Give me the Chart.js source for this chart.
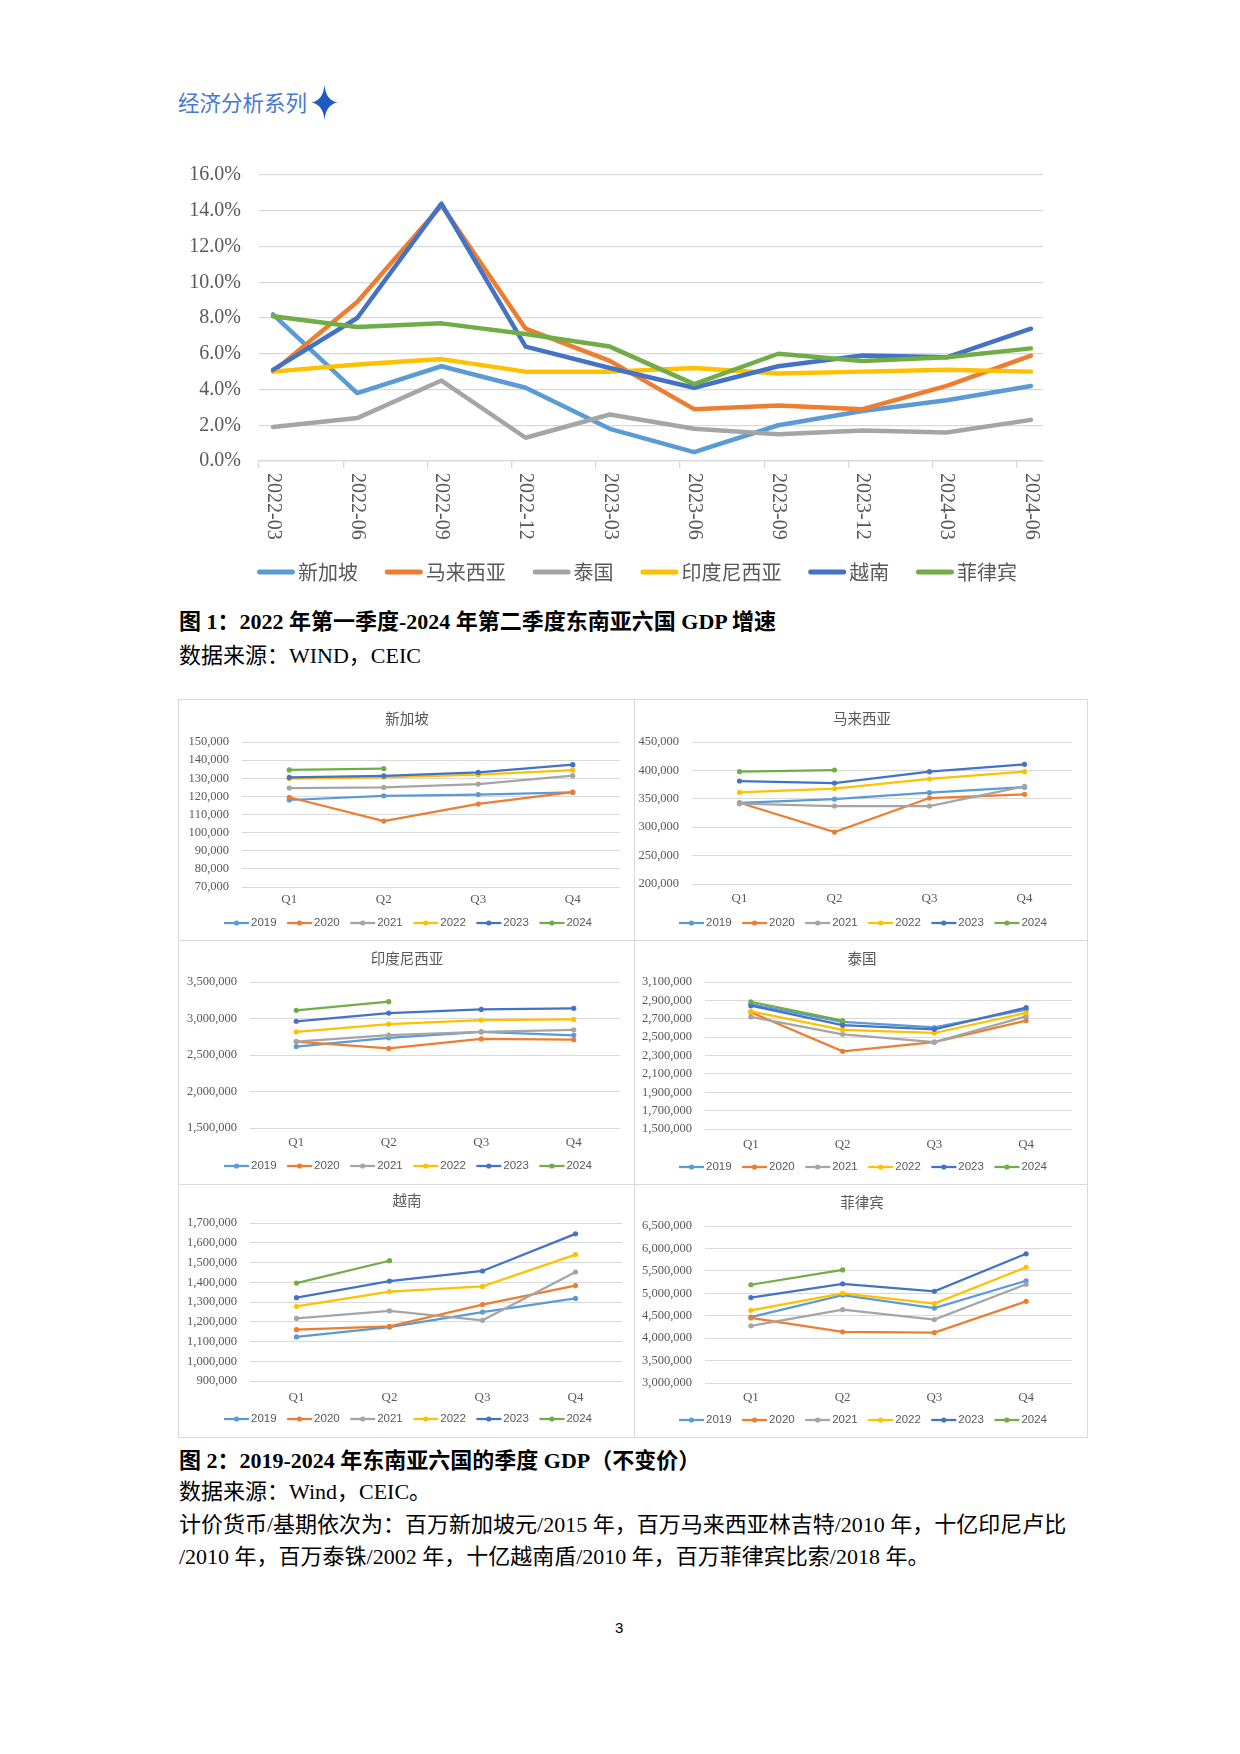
<!DOCTYPE html>
<html>
<head>
<meta charset="utf-8">
<script src="https://cdn.jsdelivr.net/npm/chart.js@4.4.1/dist/chart.umd.min.js"></script>
<style>
  html, body { margin: 0; padding: 0; background: #fff; }
  body { width: 1240px; height: 1754px; position: relative; overflow: hidden; }
  .abs { position: absolute; white-space: nowrap; }
  #hdr { left: 178px; top: 88px; font: 21.5px/28px "Noto Sans CJK SC", sans-serif; color: #4678d2; }
  .cap { left: 179px; font: bold 22px/30px "Liberation Serif", "Noto Sans CJK SC", serif; color: #000; }
  .txt { left: 179px; font: 22px/30px "Liberation Serif", "Noto Sans CJK SC", serif; color: #000; }
  #gridBox { position: absolute; left: 178px; top: 699px; width: 910px; height: 739px; border: 1px solid #d9d9d9; box-sizing: border-box; }
  .vline { position: absolute; left: 634px; top: 699px; width: 1px; height: 739px; background: #d9d9d9; }
  .hline { position: absolute; left: 178px; width: 910px; height: 1px; background: #d9d9d9; }
  canvas { position: absolute; }
</style>
</head>
<body>
<div id="hdr" class="abs">经济分析系列</div>
<svg class="abs" style="left:310px;top:85px" width="29" height="35" viewBox="0 0 29 35">
  <path d="M14.5 0 Q16 16 28 17.5 Q16 19 14.5 35 Q13 19 1 17.5 Q13 16 14.5 0 Z" fill="#1f5bc4"/>
</svg>

<canvas id="growthChart" width="890" height="445" style="left:170px;top:150px"></canvas>

<div class="abs cap" style="top:607px">图 1：2022 年第一季度-2024 年第二季度东南亚六国 GDP 增速</div>
<div class="abs txt" style="top:641px">数据来源：WIND，CEIC</div>

<div id="gridBox"></div>
<div class="vline"></div>
<div class="hline" style="top:940px"></div>
<div class="hline" style="top:1184px"></div>
<canvas id="p1" width="456" height="241" style="left:178px;top:699px"></canvas>
<canvas id="p2" width="454" height="241" style="left:634px;top:699px"></canvas>
<canvas id="p3" width="456" height="244" style="left:178px;top:940px"></canvas>
<canvas id="p4" width="454" height="244" style="left:634px;top:940px"></canvas>
<canvas id="p5" width="456" height="254" style="left:178px;top:1184px"></canvas>
<canvas id="p6" width="454" height="254" style="left:634px;top:1184px"></canvas>

<div class="abs cap" style="top:1446px">图 2：2019-2024 年东南亚六国的季度 GDP（不变价）</div>
<div class="abs txt" style="top:1477px">数据来源：Wind，CEIC。</div>
<div class="abs txt" style="top:1510px;width:887px;text-align:justify;text-align-last:justify">计价货币/基期依次为：百万新加坡元/2015 年，百万马来西亚林吉特/2010 年，十亿印尼卢比</div>
<div class="abs txt" style="top:1542px">/2010 年，百万泰铢/2002 年，十亿越南盾/2010 年，百万菲律宾比索/2018 年。</div>
<div class="abs" style="left:615px;top:1619px;font:15px/18px 'Liberation Sans',sans-serif;color:#000">3</div>

<script>
// chart 1: quarterly growth, %
const growthDates = ['2022-03', '2022-06', '2022-09', '2022-12', '2023-03', '2023-06', '2023-09', '2023-12', '2024-03', '2024-06'];
const countryNames = ['新加坡', '马来西亚', '泰国', '印度尼西亚', '越南', '菲律宾'];
const sgGrowth = [8.2, 3.8, 5.3, 4.1, 1.8, 0.5, 2.0, 2.8, 3.4, 4.2];
const myGrowth = [5.0, 8.9, 14.3, 7.4, 5.6, 2.9, 3.1, 2.9, 4.2, 5.9];
const thGrowth = [1.9, 2.4, 4.5, 1.3, 2.6, 1.8, 1.5, 1.7, 1.6, 2.3];
const idGrowth = [5.0, 5.4, 5.7, 5.0, 5.0, 5.2, 4.9, 5.0, 5.1, 5.0];
const vnGrowth = [5.1, 8.0, 14.4, 6.4, 5.2, 4.1, 5.3, 5.9, 5.8, 7.4];
const phGrowth = [8.1, 7.5, 7.7, 7.1, 6.4, 4.3, 6.0, 5.6, 5.8, 6.3];

// chart 2: quarterly GDP by year (2019..2024)
const quarters = ['Q1', 'Q2', 'Q3', 'Q4'];
const years = ['2019', '2020', '2021', '2022', '2023', '2024'];
const sgGdp = [
  [118000, 120300, 121000, 122200],
  [119500, 106400, 115800, 122300],
  [124600, 125000, 126800, 131400],
  [129800, 130500, 132000, 134500],
  [130500, 131300, 133200, 137500],
  [134600, 135300]
];
const myGdp = [
  [343000, 349600, 360800, 370500],
  [343000, 291500, 351400, 357800],
  [341400, 337300, 337300, 372000],
  [361400, 367800, 384900, 397800],
  [381300, 377800, 397800, 410700],
  [397800, 400700]
];
const idGdp = [
  [2615000, 2735000, 2818000, 2769000],
  [2684000, 2590000, 2720000, 2709000],
  [2684000, 2773000, 2816000, 2845000],
  [2818000, 2924000, 2978000, 2988000],
  [2962000, 3075000, 3124000, 3139000],
  [3112000, 3231000]
];
const thGdp = [
  [2860000, 2665000, 2605000, 2800000],
  [2770000, 2345000, 2445000, 2680000],
  [2720000, 2530000, 2445000, 2725000],
  [2780000, 2580000, 2545000, 2765000],
  [2842000, 2630000, 2585000, 2822000],
  [2885000, 2680000]
];
const vnGdp = [
  [1123000, 1173000, 1249000, 1318000],
  [1160000, 1177000, 1287000, 1383000],
  [1217000, 1255000, 1207000, 1452000],
  [1278000, 1353000, 1379000, 1540000],
  [1322000, 1406000, 1457000, 1645000],
  [1396000, 1509000]
];
const phGdp = [
  [4470000, 4960000, 4670000, 5280000],
  [4450000, 4140000, 4125000, 4820000],
  [4275000, 4635000, 4415000, 5200000],
  [4620000, 5000000, 4770000, 5580000],
  [4905000, 5210000, 5045000, 5880000],
  [5190000, 5520000]
];

const seriesColors = ['#5b9bd5', '#ed7d31', '#a5a5a5', '#ffc000', '#4472c4', '#70ad47'];
const inkGray = '#595959';
const gridGray = '#d9d9d9';

Chart.defaults.font.family = '"Liberation Serif", "Noto Sans CJK SC", serif';

function drawLineLegend(ctx, labels, o) {
  ctx.save();
  ctx.font = o.font;
  ctx.textBaseline = 'middle';
  const widths = labels.map(t => ctx.measureText(t).width);
  const total = widths.reduce((a, w) => a + o.line + o.gap + w, 0) + o.space * (labels.length - 1);
  let x = o.cx - total / 2;
  labels.forEach((t, i) => {
    const inset = o.cap === 'round' ? o.width / 2 : 0;
    ctx.strokeStyle = seriesColors[i];
    ctx.lineWidth = o.width;
    ctx.lineCap = o.cap;
    ctx.beginPath();
    ctx.moveTo(x + inset, o.y);
    ctx.lineTo(x + o.line - inset, o.y);
    ctx.stroke();
    if (o.dot) {
      ctx.fillStyle = seriesColors[i];
      ctx.beginPath();
      ctx.arc(x + o.line / 2, o.y, o.dot, 0, Math.PI * 2);
      ctx.fill();
    }
    ctx.fillStyle = inkGray;
    ctx.fillText(t, x + o.line + o.gap, o.y);
    x += o.line + o.gap + widths[i] + o.space;
  });
  ctx.restore();
}

function drawGrowthChart() {
  const series = [sgGrowth, myGrowth, thGrowth, idGrowth, vnGrowth, phGrowth];
  const tickShift = -0.166;

  const extras = {
    id: 'growthExtras',
    afterDraw(chart) {
      const { ctx, chartArea, scales } = chart;
      ctx.save();
      ctx.font = '20px "Liberation Serif"';
      ctx.fillStyle = inkGray;
      ctx.textAlign = 'left';
      ctx.textBaseline = 'middle';
      growthDates.forEach((d, i) => {
        ctx.save();
        ctx.translate(scales.x.getPixelForValue(i), chartArea.bottom + 12);
        ctx.rotate(Math.PI / 2);
        ctx.fillText(d, 0, 0);
        ctx.restore();
      });
      ctx.restore();
      drawLineLegend(ctx, countryNames, {
        cx: 467, y: 422, line: 38, gap: 3, space: 26.8, width: 5, dot: 0,
        cap: 'round', font: '20px "Noto Sans CJK SC"'
      });
    }
  };

  new Chart(document.getElementById('growthChart'), {
    type: 'line',
    data: {
      datasets: series.map((vals, i) => ({
        label: countryNames[i],
        data: vals.map((v, k) => ({ x: k, y: v })),
        borderColor: seriesColors[i],
        backgroundColor: seriesColors[i],
        borderWidth: 4.5,
        borderCapStyle: 'round',
        borderJoinStyle: 'round',
        pointRadius: 0,
        tension: 0,
        order: series.length - i
      }))
    },
    options: {
      responsive: false,
      animation: false,
      events: [],
      layout: { padding: { left: 0, right: 17, top: 25, bottom: 0 } },
      plugins: { legend: { display: false }, tooltip: { enabled: false } },
      scales: {
        x: {
          type: 'linear',
          min: tickShift,
          max: 9.143,
          afterBuildTicks: s => { s.ticks = growthDates.map((d, i) => ({ value: i + tickShift })); },
          afterFit: s => { s.height = 134; },
          grid: { drawOnChartArea: false, drawTicks: true, tickLength: 7, color: gridGray, lineWidth: 1.3 },
          border: { display: true, color: gridGray, width: 1.3 },
          ticks: { display: false }
        },
        y: {
          min: 0,
          max: 16,
          // tick padding would otherwise push the plot top down
          afterFit: s => { s.width = 89; s.paddingTop = 12; },
          ticks: {
            stepSize: 2,
            padding: 18,
            color: inkGray,
            font: { family: '"Liberation Serif"', size: 20 },
            callback: v => v.toFixed(1) + '%'
          },
          grid: { color: gridGray, lineWidth: 1.3, drawTicks: false },
          border: { display: false }
        }
      }
    },
    plugins: [extras]
  });
}

// left = y-axis width, right = right padding, top = plot top, bottom = below plot,
// titleY = title centre, q = quarter label centre below plot, leg = legend centre below plot
const panelLayout = [
  { left: 64, right: 14, top: 43, bottom: 53, titleY: 19, q: 13, leg: 36 },
  { left: 58, right: 16, top: 43, bottom: 56, titleY: 19, q: 15, leg: 39 },
  { left: 72, right: 14, top: 42, bottom: 56, titleY: 18, q: 15, leg: 38 },
  { left: 71, right: 16, top: 42, bottom: 55, titleY: 18, q: 16, leg: 38 },
  { left: 72, right: 12, top: 39, bottom: 57, titleY: 16, q: 17, leg: 38 },
  { left: 71, right: 16, top: 42, bottom: 55, titleY: 18, q: 15, leg: 37 }
];

function drawPanel(id, title, rows, min, max, step, L) {
  const decor = {
    id: 'panelDecor',
    afterDraw(chart) {
      const ctx = chart.ctx;
      ctx.save();
      ctx.font = '14.5px "Noto Sans CJK SC"';
      ctx.fillStyle = inkGray;
      ctx.textAlign = 'center';
      ctx.textBaseline = 'middle';
      ctx.fillText(title, chart.width / 2 + 1, L.titleY);
      ctx.restore();
      drawLineLegend(ctx, years, {
        cx: chart.width / 2 + 2, y: chart.chartArea.bottom + L.leg,
        line: 25, gap: 2, space: 10.5, width: 2.25, dot: 2.6,
        cap: 'butt', font: '11.5px "Liberation Sans"'
      });
    }
  };

  new Chart(document.getElementById(id), {
    type: 'line',
    data: {
      labels: quarters,
      datasets: rows.map((vals, i) => ({
        label: years[i],
        data: vals,
        borderColor: seriesColors[i],
        backgroundColor: seriesColors[i],
        pointBackgroundColor: seriesColors[i],
        pointBorderWidth: 0,
        pointRadius: 2.6,
        borderWidth: 2.25,
        tension: 0,
        order: rows.length - i
      }))
    },
    options: {
      responsive: false,
      animation: false,
      events: [],
      layout: { padding: { left: 0, right: L.right, top: L.top, bottom: 0 } },
      plugins: { legend: { display: false }, tooltip: { enabled: false } },
      scales: {
        x: {
          offset: true,
          afterFit: s => { s.height = L.bottom; },
          grid: { display: false, drawTicks: false },
          border: { display: false },
          ticks: { padding: L.q - 7.8, color: inkGray, font: { family: '"Liberation Serif"', size: 13 } }
        },
        y: {
          min: min,
          max: max,
          afterFit: s => { s.width = L.left; },
          ticks: {
            stepSize: step,
            padding: 13,
            color: inkGray,
            font: { family: '"Liberation Serif"', size: 12.5 },
            callback: v => v.toLocaleString('en-US')
          },
          grid: { color: gridGray, drawTicks: false },
          border: { display: false }
        }
      }
    },
    plugins: [decor]
  });
}

drawGrowthChart();
drawPanel('p1', '新加坡', sgGdp, 70000, 150000, 10000, panelLayout[0]);
drawPanel('p2', '马来西亚', myGdp, 200000, 450000, 50000, panelLayout[1]);
drawPanel('p3', '印度尼西亚', idGdp, 1500000, 3500000, 500000, panelLayout[2]);
drawPanel('p4', '泰国', thGdp, 1500000, 3100000, 200000, panelLayout[3]);
drawPanel('p5', '越南', vnGdp, 900000, 1700000, 100000, panelLayout[4]);
drawPanel('p6', '菲律宾', phGdp, 3000000, 6500000, 500000, panelLayout[5]);
</script>
</body>
</html>
